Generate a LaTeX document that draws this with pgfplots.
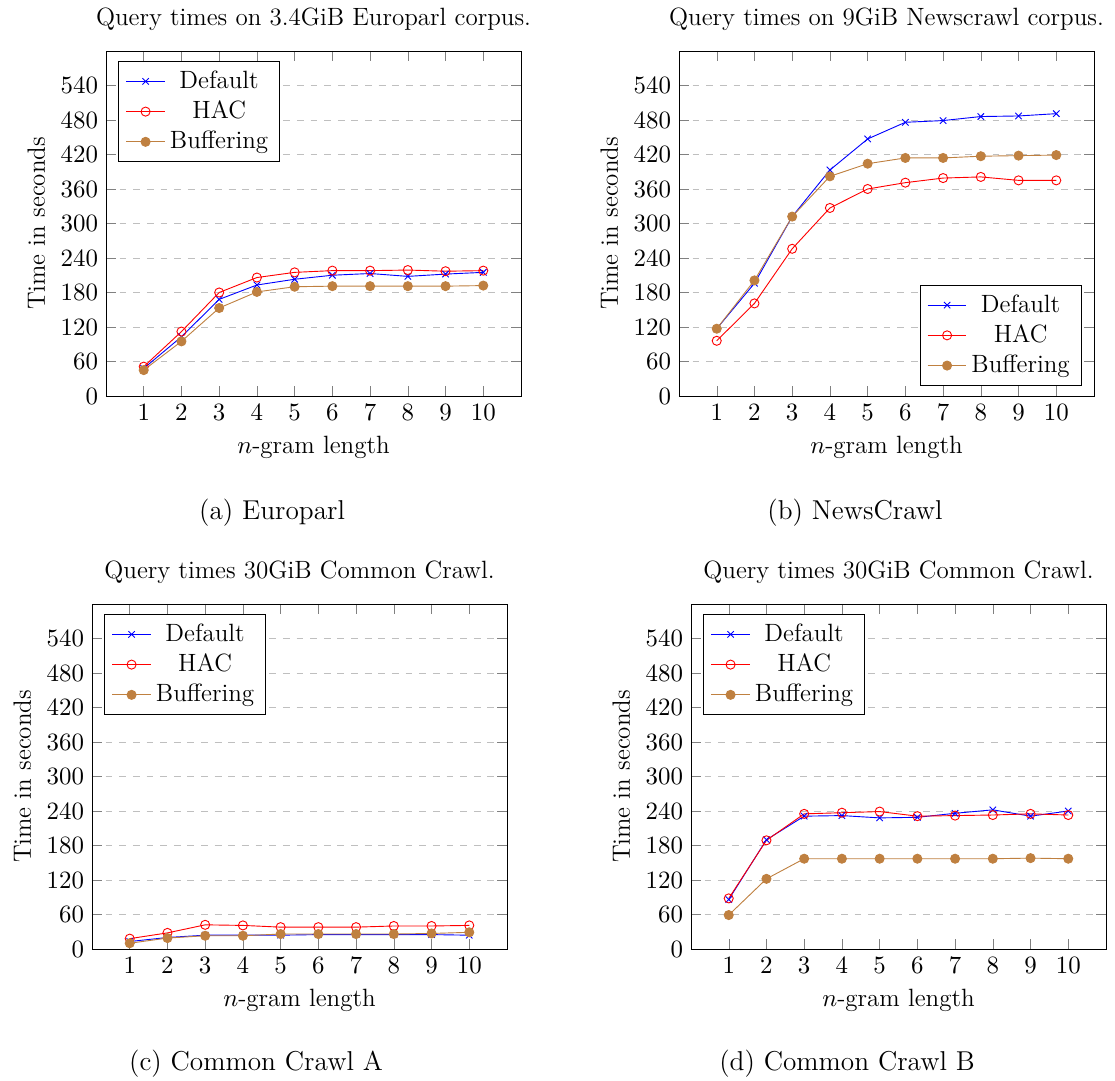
\documentclass[border=0pt]{standalone}
\usepackage{pgfplots}
\pgfplotsset{compat=1.18}
\begin{document}
\begin{tikzpicture}
\path[use as bounding box] (0pt,0pt) rectangle (490.6pt,475.64pt);
\pgfplotsset{
  myaxis/.style={
    scale only axis, width=182.6pt, height=151.8pt,
    xmin=0, xmax=11, ymin=0, ymax=600,
    xtick={1,...,10}, ytick={0,60,...,540},
    ymajorgrids, grid style={dashed, gray!50},
    xlabel={$n$-gram length}, ylabel={Time in seconds},
    tick label style={font=\fontsize{11}{13}\selectfont},
    label style={font=\fontsize{11}{13}\selectfont},
    title style={at={(0.5,1)}, anchor=base, yshift=5.4pt, font=\fontsize{11}{13}\selectfont},
    legend cell align=center,
    legend style={font=\fontsize{11}{13}\selectfont},
    anchor=south west,
  },
  sdef/.style={color=blue, mark=x},
  shac/.style={color=red, mark=o},
  sbuf/.style={color=brown, mark=*, mark options={fill=brown}},
}
% (a)
\begin{axis}[myaxis, at={(46.64pt,301.4pt)}, title={Query times on 3.4GiB Europarl corpus.}, legend pos=north west]
\addplot[sdef] coordinates {(1,48)(2,103)(3,168)(4,193)(5,203)(6,210)(7,213)(8,208)(9,212)(10,215)};
\addplot[shac] coordinates {(1,51)(2,112)(3,180)(4,206)(5,215)(6,218)(7,218)(8,219)(9,217)(10,218)};
\addplot[sbuf] coordinates {(1,45)(2,95)(3,153)(4,181)(5,190)(6,191)(7,191)(8,191)(9,191)(10,192)};
\legend{Default,HAC,Buffering}
\end{axis}
% (b)
\begin{axis}[myaxis, at={(298.76pt,301.4pt)}, title={Query times on 9GiB Newscrawl corpus.}, legend pos=south east]
\addplot[sdef] coordinates {(1,117)(2,196)(3,312)(4,393)(5,447)(6,476)(7,479)(8,486)(9,487)(10,491)};
\addplot[shac] coordinates {(1,96)(2,161)(3,256)(4,327)(5,360)(6,371)(7,379)(8,381)(9,375)(10,375)};
\addplot[sbuf] coordinates {(1,117)(2,201)(3,312)(4,382)(5,404)(6,414)(7,414)(8,417)(9,418)(10,419)};
\legend{Default,HAC,Buffering}
\end{axis}
% (c)
\begin{axis}[myaxis, at={(40.48pt,58.08pt)}, title={Query times 30GiB Common Crawl.}, legend pos=north west]
\addplot[sdef] coordinates {(1,13)(2,20)(3,24)(4,24)(5,24)(6,25)(7,25)(8,25)(9,25)(10,24)};
\addplot[shac] coordinates {(1,18)(2,28)(3,42)(4,41)(5,38)(6,38)(7,38)(8,40)(9,40)(10,41)};
\addplot[sbuf] coordinates {(1,10)(2,19)(3,23)(4,23)(5,26)(6,26)(7,26)(8,26)(9,27)(10,29)};
\legend{Default,HAC,Buffering}
\end{axis}
% (d)
\begin{axis}[myaxis, at={(304.04pt,58.08pt)}, title={Query times 30GiB Common Crawl.}, legend pos=north west]
\addplot[sdef] coordinates {(1,86)(2,190)(3,231)(4,232)(5,228)(6,229)(7,236)(8,242)(9,231)(10,240)};
\addplot[shac] coordinates {(1,88)(2,189)(3,235)(4,237)(5,239)(6,231)(7,232)(8,233)(9,235)(10,233)};
\addplot[sbuf] coordinates {(1,59)(2,122)(3,157)(4,157)(5,157)(6,157)(7,157)(8,157)(9,158)(10,157)};
\legend{Default,HAC,Buffering}
\end{axis}
% captions
\node[anchor=base, font=\fontsize{12}{14}\selectfont] at (119.7pt,247.2pt) {(a)\ Europarl};
\node[anchor=base, font=\fontsize{12}{14}\selectfont] at (376.2pt,247.2pt) {(b) NewsCrawl};
\node[anchor=base, font=\fontsize{12}{14}\selectfont] at (112.64pt,4.4pt) {(c) Common Crawl A};
\node[anchor=base, font=\fontsize{12}{14}\selectfont] at (372.7pt,4.4pt) {(d) Common Crawl B};
\end{tikzpicture}
\end{document}
